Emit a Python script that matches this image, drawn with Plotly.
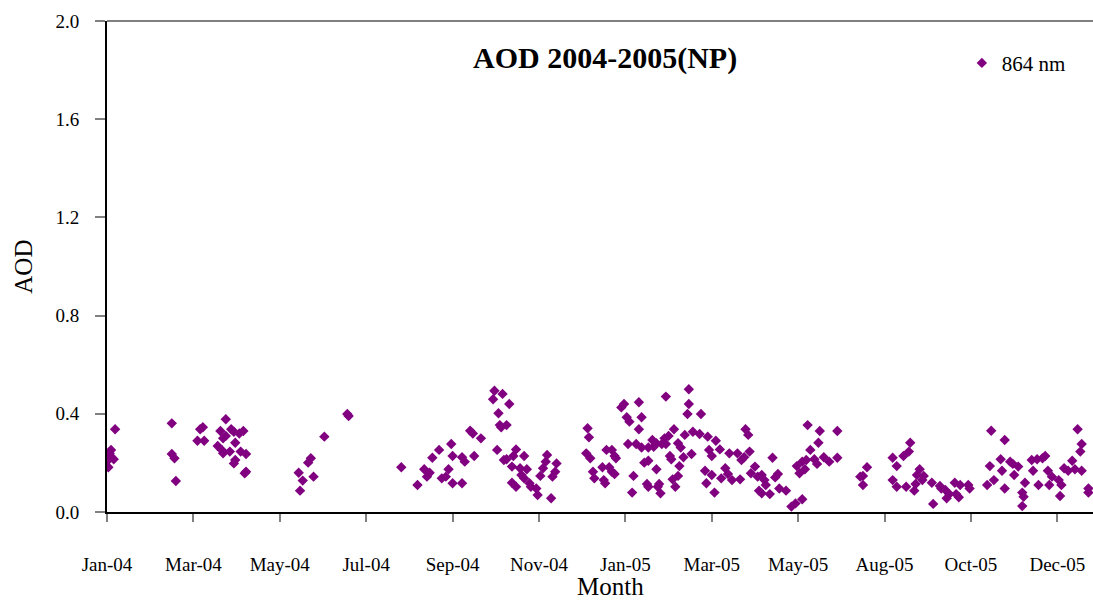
import pandas as pd
import plotly.graph_objects as go

# Daily AOD at 864 nm; observation day counted from 1 Jan 2004
obs_day = [
    4, 4, 5, 6, 6, 8, 9,
    51, 51, 53, 54,
    70, 72, 74, 75,
    85, 87, 88, 89, 89, 91, 91, 94, 95, 97, 97, 98, 98, 101, 102, 104, 105, 106, 106,
    145, 146, 148, 152, 154, 156, 164, 181, 182,
    221, 233, 238, 240, 242, 244,
    249, 251, 254, 256, 258, 259, 259, 266, 266, 268, 272, 274, 275, 280,
    289, 290, 292, 293, 294, 295, 296, 297, 299, 299, 301, 303, 303, 304, 306, 306,
    309, 310, 312, 312, 314, 316, 317, 321, 322, 324, 326, 328, 329, 332, 333, 335, 336,
    358, 359, 360, 361, 363, 364,
    370, 371, 372, 373, 375, 377, 377, 379, 379, 380, 384, 386, 388, 389, 390, 392, 393,
    395, 397, 397, 399, 399, 401, 403, 404, 404, 404, 407, 408, 410, 410, 411, 412, 413,
    414, 416, 417, 417, 419, 420, 421, 422, 423, 424, 426, 426, 427, 428, 430, 431, 433,
    434, 434, 436, 437, 442, 443, 446, 447, 448, 449, 451, 451, 453, 454, 457, 458, 461,
    463, 464, 466, 470, 472, 473, 475, 476, 478, 479, 480, 483, 485, 486,
    488, 488, 490, 491, 494, 496, 498, 500, 501, 506, 510, 513, 514, 516, 518, 518, 520,
    521, 522, 524, 527, 529, 530, 531, 534, 538, 544, 544,
    561, 563, 563, 566,
    585, 585, 588, 588, 593, 595, 597, 598, 601, 602, 603, 605, 607, 608,
    614, 615, 620, 621, 624, 625, 627, 631, 632, 634, 635, 641, 642,
    655, 657, 658, 660, 665, 666, 668, 668, 672, 674, 675, 678, 681, 681, 682, 683,
    688, 689, 692, 693, 696, 698, 700, 701, 703, 708, 709, 710, 712, 715, 718, 720,
    722, 724, 725, 725, 730, 730,
]
aod_864 = [
    0.212, 0.182, 0.239, 0.253, 0.225, 0.215, 0.337,
    0.361, 0.236, 0.219, 0.126,
    0.290, 0.337, 0.345, 0.290,
    0.269, 0.330, 0.253, 0.300, 0.239, 0.378, 0.310, 0.246, 0.337, 0.327, 0.198, 0.282, 0.212, 0.320, 0.246, 0.330, 0.158, 0.236, 0.164,
    0.160, 0.087, 0.128, 0.201, 0.219, 0.144, 0.307, 0.399, 0.391,
    0.182, 0.110, 0.174, 0.144, 0.160, 0.221,
    0.253, 0.137, 0.144, 0.174, 0.277, 0.228, 0.117, 0.223, 0.117, 0.205, 0.331, 0.320, 0.228, 0.300,
    0.459, 0.494, 0.253, 0.402, 0.354, 0.345, 0.481, 0.212, 0.354, 0.215, 0.440, 0.185, 0.119, 0.228, 0.255, 0.103,
    0.178, 0.151, 0.228, 0.137, 0.174, 0.117, 0.103, 0.096, 0.069, 0.147, 0.178, 0.205, 0.232, 0.056, 0.144, 0.164, 0.198,
    0.239, 0.341, 0.304, 0.219, 0.164, 0.137,
    0.182, 0.130, 0.117, 0.253, 0.182, 0.253, 0.164, 0.228, 0.155, 0.219, 0.426, 0.440, 0.386, 0.277, 0.368, 0.079, 0.147,
    0.277, 0.447, 0.337, 0.386, 0.263, 0.201, 0.114, 0.263, 0.209, 0.103, 0.293, 0.266, 0.280, 0.174, 0.103, 0.114, 0.076,
    0.277, 0.300, 0.277, 0.470, 0.310, 0.228, 0.215, 0.133, 0.337, 0.103, 0.280, 0.147, 0.187, 0.263, 0.223, 0.314, 0.399,
    0.500, 0.440, 0.236, 0.327, 0.318, 0.399, 0.168, 0.117, 0.307, 0.253, 0.228, 0.151, 0.079, 0.290, 0.255, 0.137, 0.178,
    0.155, 0.239, 0.130, 0.239, 0.133, 0.212, 0.223, 0.337, 0.314, 0.246, 0.158, 0.185, 0.144, 0.087,
    0.151, 0.076, 0.130, 0.110, 0.073, 0.221, 0.141, 0.155, 0.096, 0.087, 0.022, 0.035, 0.187, 0.158, 0.052, 0.205, 0.174,
    0.212, 0.354, 0.253, 0.215, 0.196, 0.282, 0.330, 0.223, 0.205, 0.330, 0.221,
    0.144, 0.147, 0.110, 0.182,
    0.221, 0.130, 0.187, 0.103, 0.228, 0.103, 0.246, 0.282, 0.087, 0.114, 0.151, 0.174, 0.130, 0.147,
    0.119, 0.033, 0.106, 0.096, 0.090, 0.056, 0.073, 0.119, 0.073, 0.060, 0.110, 0.110, 0.096,
    0.110, 0.187, 0.331, 0.130, 0.215, 0.168, 0.293, 0.096, 0.205, 0.196, 0.151, 0.185, 0.079, 0.024, 0.062, 0.119,
    0.212, 0.168, 0.215, 0.110, 0.219, 0.228, 0.168, 0.110, 0.144, 0.130, 0.065, 0.110, 0.178, 0.168, 0.209, 0.174,
    0.337, 0.246, 0.277, 0.168, 0.096, 0.079,
]

month_labels = ["Jan-04", "Mar-04", "May-04", "Jul-04", "Sep-04", "Nov-04",
                "Jan-05", "Mar-05", "May-05", "Aug-05", "Oct-05", "Dec-05"]
y_ticks = [0.0, 0.4, 0.8, 1.2, 1.6, 2.0]

FONT = "Liberation Serif"
PURPLE = "#800080"

axis_start = pd.Timestamp("2004-01-04")
tick_step = pd.Timedelta(days=64)
axis_end = axis_start + pd.Timedelta(days=730.4)

dates = pd.Timestamp("2004-01-01") + pd.to_timedelta(obs_day, unit="D")
tick_dates = [axis_start + tick_step * i for i in range(len(month_labels))]

fig = go.Figure()
fig.add_trace(go.Scatter(
    x=dates, y=aod_864, mode="markers", name="864 nm",
    marker=dict(symbol="diamond", size=8, color=PURPLE, line=dict(width=0)),
))

fig.update_layout(
    width=1093, height=600,
    margin=dict(l=107, r=0, t=21, b=88),
    paper_bgcolor="white", plot_bgcolor="white",
    font=dict(family=FONT, color="black"),
    showlegend=True,
    legend=dict(x=0.867, y=0.914, xanchor="left", yanchor="middle",
                font=dict(family=FONT, size=21, color="black"),
                bgcolor="rgba(0,0,0,0)"),
    xaxis=dict(
        type="date", range=[axis_start, axis_end],
        tickmode="array", tickvals=tick_dates, ticktext=month_labels,
        ticks="outside", ticklen=8, tickwidth=2, tickcolor="#808080",
        showline=True, linecolor="black", linewidth=2,
        showgrid=False, zeroline=False,
        tickfont=dict(family=FONT, size=19, color="black"),
        ticklabelstandoff=26,
    ),
    yaxis=dict(
        range=[0, 2], tickmode="array", tickvals=y_ticks, tickformat=".1f",
        ticks="outside", ticklen=10, tickwidth=2, tickcolor="#808080",
        showline=True, linecolor="black", linewidth=2,
        showgrid=False, zeroline=False,
        tickfont=dict(family=FONT, size=19, color="black"),
        ticklabelstandoff=12,
    ),
    shapes=[dict(type="line", xref="paper", yref="paper", x0=0, x1=1, y0=1, y1=1,
                 line=dict(color="#808080", width=2))],
    annotations=[
        dict(text="<b>AOD 2004-2005(NP)</b>", xref="paper", yref="paper",
             x=0.505, y=0.9246, xanchor="center", yanchor="middle", showarrow=False,
             font=dict(family=FONT, size=30, color="black")),
        dict(text="AOD", xref="paper", yref="paper", x=-0.085, y=0.5,
             xanchor="center", yanchor="middle", textangle=-90, showarrow=False,
             font=dict(family=FONT, size=25, color="black")),
        dict(text="Month", xref="paper", yref="paper", x=0.511, y=-0.152,
             xanchor="center", yanchor="middle", showarrow=False,
             font=dict(family=FONT, size=25, color="black")),
    ],
)

fig.write_html("out.html")
